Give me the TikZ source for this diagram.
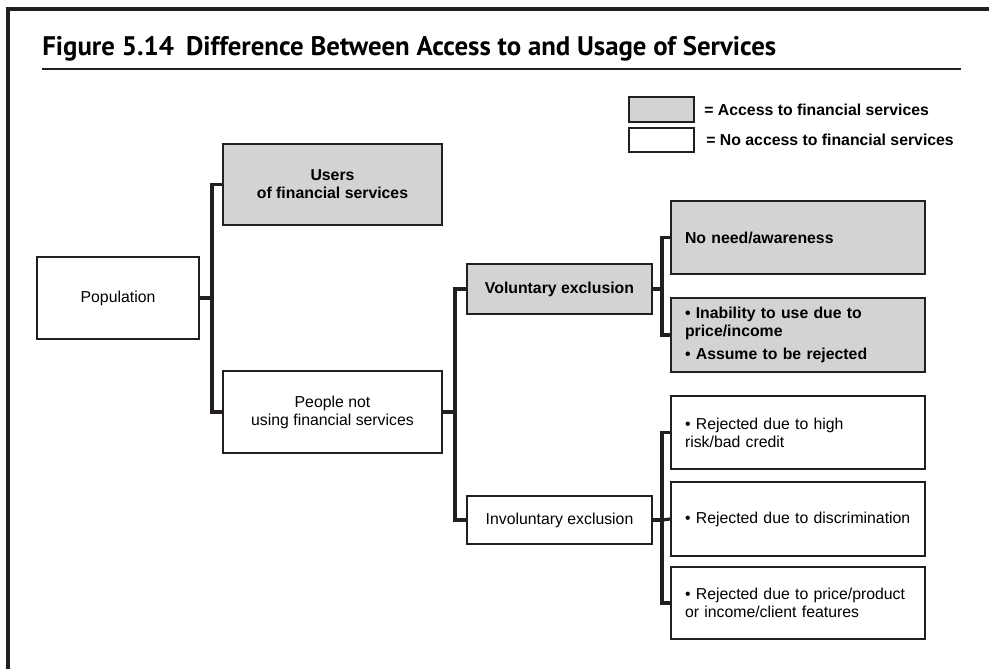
\documentclass[tikz,border=0pt]{standalone}
\usepackage{graphicx}
\usepackage{fontspec}
\setmainfont{Liberation Sans}
\newfontfamily\titlefont{PT Sans}
\usetikzlibrary{positioning}
\definecolor{fin514ink}{HTML}{231F20}
\definecolor{fin514grey}{HTML}{D1D3D4}

\begin{document}
\begin{tikzpicture}[
  x=0.02cm, y=-0.02cm,
  fin514box/.style = {draw=fin514ink, line width=1.1pt, align=center, inner sep=0pt,
    font=\fontsize{9}{10.3}\selectfont},
  fin514acc/.style = {fin514box, fill=fin514grey, font=\fontsize{9}{10.3}\selectfont\bfseries},
  fin514list/.style = {align=left, text width=4.52cm, minimum width=5.08cm},
  fin514link/.style = {draw=fin514ink, line width=1.8pt},
  fin514key/.style = {anchor=west, inner sep=0pt, font=\fontsize{9}{10.3}\selectfont\bfseries}
]
  \useasboundingbox (0,0) rectangle (989,669);
  % frame
  \draw[fin514ink, line width=2.4pt] (8,669) -- (8,9) -- (989,9);
  % title
  \node[anchor=base west, inner sep=0pt] (title) at (42,55)
    {\resizebox{14.68cm}{!}{\titlefont\bfseries Figure 5.14\hspace{0.45em}Difference Between Access to and Usage of Services}};
  \draw[fin514ink, line width=1pt] (42,69) -- (961,69);
  % legend
  \node[fin514acc, minimum width=1.3cm, minimum height=0.5cm] (keyacc) at (661.5,109.5) {};
  \node[fin514box, minimum width=1.3cm, minimum height=0.48cm] (keyno) at (661.5,140) {};
  \node[fin514key] (keyacctxt) at (704,109.5) {= Access to financial services};
  \node[fin514key] (keynotxt) at (706,140) {= No access to financial services};
  % first level
  \node[fin514box, minimum width=3.24cm, minimum height=1.64cm] (pop) at (118,298) {Population};
  \node[fin514acc, minimum width=4.38cm, minimum height=1.62cm] (users) at (332.5,184.5)
    {Users\\of financial services};
  \node[fin514box, minimum width=4.38cm, minimum height=1.64cm] (notusing) at (332.5,412)
    {People not\\using financial services};
  % second level
  \node[fin514acc, minimum width=3.7cm, minimum height=1.0cm] (vol) at (559.5,289) {Voluntary exclusion};
  \node[fin514box, minimum width=3.7cm, minimum height=0.96cm] (invol) at (559.5,520) {Involuntary exclusion};
  % reasons
  \node[fin514acc, fin514list, minimum height=1.46cm] (noneed) at (798,237.5) {No need/awareness};
  \node[fin514acc, fin514list, minimum height=1.48cm] (inability) at (798,335)
    {\textbullet\ Inability to use due to\\price/income\\[3pt]\textbullet\ Assume to be rejected};
  \node[fin514box, fin514list, minimum height=1.46cm] (risk) at (798,432.5)
    {\textbullet\ Rejected due to high\\risk/bad credit};
  \node[fin514box, fin514list, minimum height=1.48cm] (discr) at (798,519)
    {\textbullet\ Rejected due to discrimination};
  \node[fin514box, fin514list, minimum height=1.44cm] (price) at (798,603)
    {\textbullet\ Rejected due to price/product\\or income/client features};
  % forks
  \coordinate (popfork) at ([xshift=0.24cm]pop.east);
  \coordinate (notfork) at ([xshift=0.24cm]notusing.east);
  \coordinate (volfork) at ([xshift=0.18cm]vol.east);
  \coordinate (involfork) at ([xshift=0.18cm]invol.east);
  \draw[fin514link] (pop.east) -- (popfork) |- (users.west) (popfork) |- (notusing.west);
  \draw[fin514link] (notusing.east) -- (notfork) |- (vol.west) (notfork) |- (invol.west);
  \draw[fin514link] (vol.east) -- (volfork) |- (noneed.west) (volfork) |- (inability.west);
  \draw[fin514link] (invol.east) -- (involfork) |- (risk.west) (involfork) |- (price.west);
  \draw[fin514link] (involfork) -- (discr.west);
\end{tikzpicture}
\end{document}
